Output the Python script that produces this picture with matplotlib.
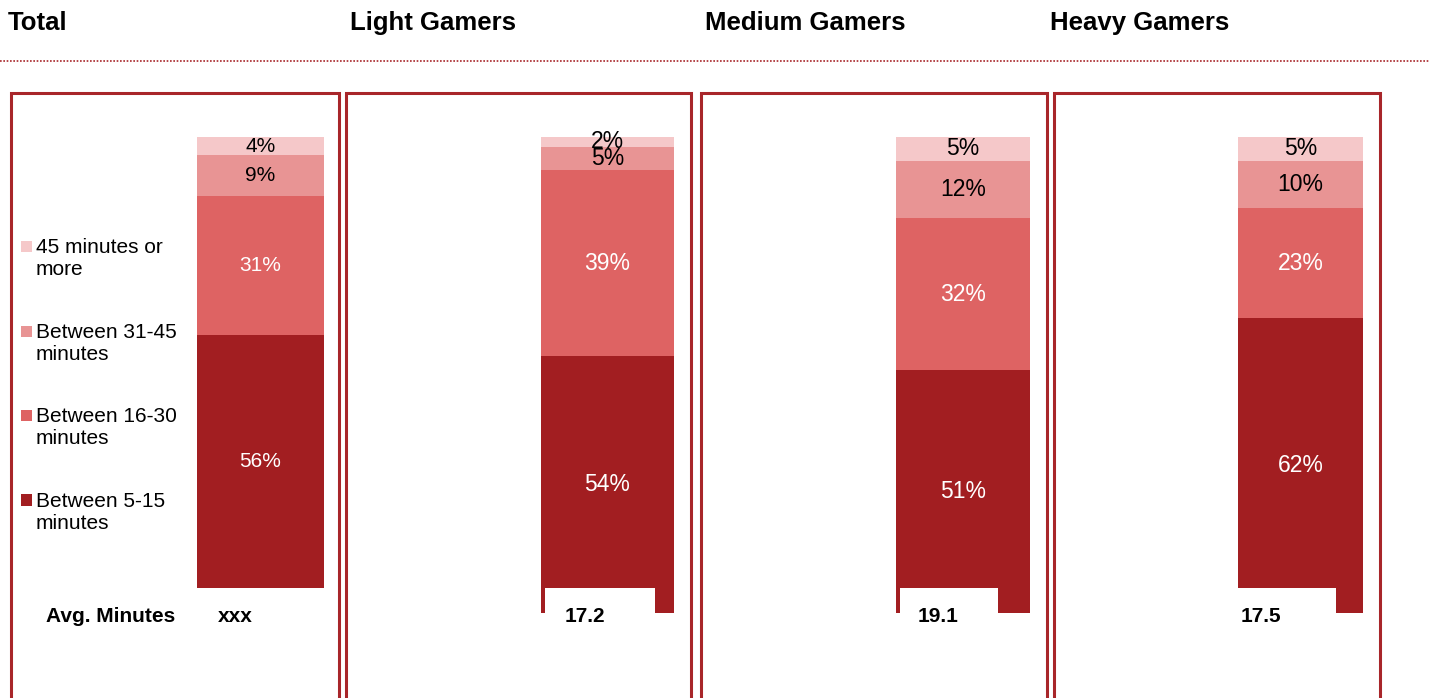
import matplotlib
matplotlib.use("Agg")
import matplotlib.pyplot as plt
from matplotlib.patches import Rectangle
from matplotlib.lines import Line2D

plt.rcParams['font.family'] = ['Liberation Sans', 'DejaVu Sans']

# Share of sessions by length, per gamer segment
panels = ['Total', 'Light Gamers', 'Medium Gamers', 'Heavy Gamers']
buckets = ['Between 5-15\nminutes', 'Between 16-30\nminutes',
           'Between 31-45\nminutes', '45 minutes or\nmore']
min_5_15 = [56, 54, 51, 62]
min_16_30 = [31, 39, 32, 23]
min_31_45 = [9, 5, 12, 10]
min_45_plus = [4, 2, 5, 5]
avg_minutes = ['xxx', '17.2', '19.1', '17.5']

colors = ['#A21E21', '#DE6363', '#E89494', '#F5C8C9']
label_colors = ['white', 'white', 'black', 'black']
border = '#A8262A'

W, H = 1430, 698
fig = plt.figure(figsize=(W / 100, H / 100), dpi=100)


def fx(x):
    return x / W


def fy(y):
    return 1 - y / H


# panel frames (pixel left/right)
frames = [(11, 339), (346, 691), (701, 1047), (1054, 1380)]
# bar boxes (left, right, top, bottom) in pixels
bars = [(197, 324, 137, 588), (541, 674, 137, 613),
        (896, 1030, 137, 613), (1238, 1363, 137, 613)]
title_x = [8, 350, 705, 1050]
avg_x = [235, 585, 938, 1261]
masks = [None, (545, 655), (900, 998), (1238, 1336)]
pct_size = [15, 16.5, 16.5, 16.5]

for name, tx in zip(panels, title_x):
    fig.text(fx(tx), fy(23), name, fontsize=18.5, fontweight='bold',
             ha='left', va='center')

fig.add_artist(Line2D([0, 1], [fy(61), fy(61)], color=border, lw=1.2,
                      linestyle=(0, (1, 1)), transform=fig.transFigure))

for i in range(4):
    l, r = frames[i]
    fig.add_artist(Rectangle((fx(l), fy(720)), fx(r - l), fy(93) - fy(720),
                             transform=fig.transFigure, fill=False,
                             edgecolor=border, lw=2.2, zorder=3))

    bl, br, bt, bb = bars[i]
    ax = fig.add_axes([fx(bl), fy(bb), fx(br - bl), fy(bt) - fy(bb)])
    ax.set_xlim(-0.5, 0.5)
    ax.set_ylim(0, 100)
    ax.axis('off')
    vals = [min_5_15[i], min_16_30[i], min_31_45[i], min_45_plus[i]]
    bottom = 0
    for v, c, lc in zip(vals, colors, label_colors):
        ax.bar(0, v, width=1.0, bottom=bottom, color=c, linewidth=0)
        ax.text(0, bottom + v / 2, f'{v}%', ha='center', va='center',
                color=lc, fontsize=pct_size[i])
        bottom += v

    if masks[i] is not None:
        ml, mr = masks[i]
        fig.add_artist(Rectangle((fx(ml), fy(640)), fx(mr - ml), fy(588) - fy(640),
                                 transform=fig.transFigure, facecolor='white',
                                 edgecolor='none', zorder=4))

    fig.text(fx(avg_x[i]), fy(617), avg_minutes[i], fontsize=15,
             fontweight='bold', ha='center', va='center', zorder=5)

fig.text(fx(46), fy(617), 'Avg. Minutes', fontsize=15, fontweight='bold',
         ha='left', va='center', zorder=5)

# legend, top entry first
legend_y = [246, 331, 415, 500]
for j, y in enumerate(legend_y):
    k = 3 - j
    fig.add_artist(Rectangle((fx(21), fy(y + 5.5)), fx(11), fy(y - 5.5) - fy(y + 5.5),
                             transform=fig.transFigure, facecolor=colors[k],
                             edgecolor='none'))
    fig.text(fx(36), fy(y - 8), buckets[k], fontsize=15, ha='left',
             va='top', linespacing=1.2)

fig.savefig('out.png', dpi=100)
